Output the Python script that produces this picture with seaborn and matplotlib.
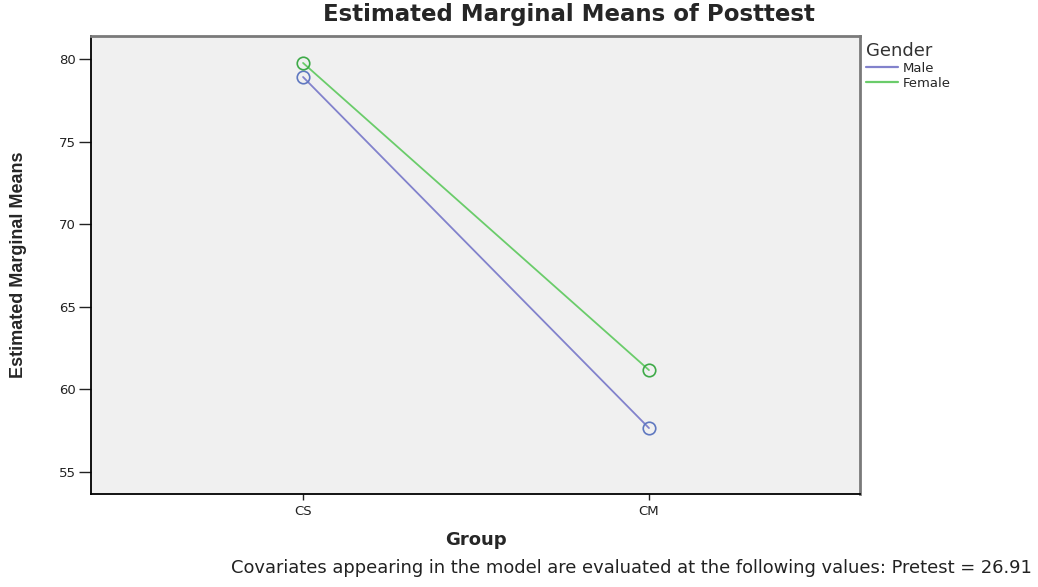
import seaborn as sns
import matplotlib.pyplot as plt
from matplotlib import font_manager
import pandas as pd

groups = ["CS", "CM"]
male_means = [78.91, 57.66]
female_means = [79.76, 61.17]
genders = ["Male", "Female"]
y_ticks = [55, 60, 65, 70, 75, 80]
footnote = "Covariates appearing in the model are evaluated at the following values: Pretest = 26.91"

df = pd.DataFrame({
    "Group": groups * 2,
    "Mean": male_means + female_means,
    "Gender": ["Male"] * 2 + ["Female"] * 2,
})

sns.set_style("white")
plt.rcParams['font.family'] = ['DejaVu Sans']

# narrow font for the rotated y label, if it exists
try:
    font_manager.findfont("Liberation Sans Narrow", fallback_to_default=False)
    ylab_family, ylab_size = ["Liberation Sans Narrow", "DejaVu Sans"], 15.5
except Exception:
    ylab_family, ylab_size = ["Liberation Sans", "DejaVu Sans"], 13

fig = plt.figure(figsize=(10.38, 5.87), dpi=100)
ax = fig.add_axes([91 / 1038, 1 - 494 / 587, 769 / 1038, 458 / 587])
ax.set_facecolor("#f0f0f0")

pal = {"Male": "#8282cc", "Female": "#6acc6a"}
sns.lineplot(data=df, x="Group", y="Mean", hue="Gender", hue_order=genders,
             palette=pal, marker="o", markersize=9, linewidth=1.3, ax=ax, legend=False)
edge = {"#8282cc": "#5f78c0", "#6acc6a": "#3eaa48"}
for line in ax.lines:
    line.set_markeredgecolor(edge.get(line.get_color(), line.get_color()))
    line.set_markerfacecolor("none")
    line.set_markeredgewidth(1.2)

ax.set_xlim(-0.613, 1.61)
ax.set_ylim(53.67, 81.39)
ax.set_yticks(y_ticks)
ax.tick_params(axis="y", direction="out", length=9, width=1, labelsize=9.5,
               colors="#222222", left=True, pad=2)
ax.tick_params(axis="x", direction="out", length=4, width=1, labelsize=9.5,
               colors="#222222", bottom=True, pad=4)
for s in ["left", "bottom"]:
    ax.spines[s].set_color("black")
    ax.spines[s].set_linewidth(1.3)
for s in ["top", "right"]:
    ax.spines[s].set_color("#7a7a7a")
    ax.spines[s].set_linewidth(2)

ax.set_xlabel("Group", fontsize=13, fontweight="bold")
ax.xaxis.set_label_coords(0.5, (494 - 540) / 458)
ax.xaxis.label.set_va("center")
ax.set_ylabel("Estimated Marginal Means", fontsize=ylab_size, fontweight="bold",
              family=ylab_family)
ax.yaxis.set_label_coords((19 - 91) / 769, 0.5)
ax.yaxis.label.set_va("center")
ax.set_title("Estimated Marginal Means of Posttest", fontsize=16.5, fontweight="bold",
             x=(569 - 91) / 769, y=1 + (36 - 23) / 458, va="center")

handles = [plt.Line2D([], [], color=pal[g], linewidth=1.6) for g in genders]
leg = fig.legend(handles, genders, title="Gender", loc="upper left",
                 bbox_to_anchor=(866 / 1038, 1 - 42 / 587), frameon=False, fontsize=9.5,
                 title_fontsize=13, handlelength=2.4, handletextpad=0.4,
                 labelspacing=0.15, borderaxespad=0, borderpad=0, alignment="left")
leg.get_title().set_color("#333333")

fig.text(1032 / 1038, 1 - 568 / 587, footnote, ha="right", va="center",
         fontsize=12.9, color="#222222")

fig.savefig("out.png", dpi=100)
